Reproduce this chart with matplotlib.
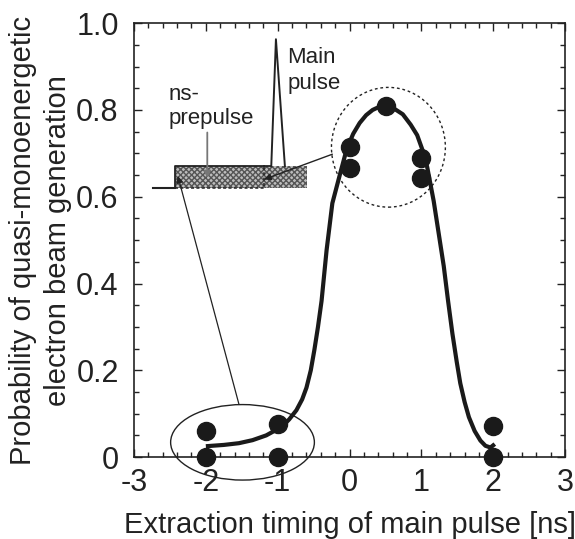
import matplotlib
matplotlib.use("Agg")
import matplotlib.pyplot as plt
from matplotlib.patches import Ellipse, Rectangle
from matplotlib.ticker import MultipleLocator, FixedLocator

plt.rcParams['font.family'] = ['Liberation Sans', 'DejaVu Sans']
plt.rcParams['axes.unicode_minus'] = False

# measured data points
x_pts = [-2, -2, -1, -1, 0, 0, 0.5, 1, 1, 2, 2]
y_pts = [0.06, 0.0, 0.077, 0.0, 0.715, 0.666, 0.809, 0.69, 0.643, 0.071, 0.0]

# fitted curve
curve_x = [-2.0, -1.75, -1.54, -1.35, -1.16, -0.94, -0.84, -0.74, -0.66, -0.60, -0.54, -0.49,
           -0.44, -0.39, -0.32, -0.24, -0.14, -0.04, 0.05, 0.14, 0.23, 0.32, 0.41, 0.5,
           0.62, 0.74, 0.85, 0.94, 1.02, 1.08, 1.17, 1.24, 1.31, 1.37, 1.43, 1.49, 1.54,
           1.60, 1.66, 1.74, 1.82, 1.89, 1.96, 2.02]
curve_y = [0.025, 0.028, 0.032, 0.039, 0.05, 0.07, 0.087, 0.108, 0.133, 0.16, 0.20, 0.247,
           0.30, 0.36, 0.477, 0.585, 0.648, 0.710, 0.745, 0.770, 0.788, 0.800, 0.807, 0.809,
           0.803, 0.790, 0.766, 0.742, 0.705, 0.668, 0.59, 0.515, 0.44, 0.36, 0.285, 0.22, 0.17,
           0.127, 0.092, 0.060, 0.038, 0.026, 0.022, 0.030]

x_ticks = [-3, -2, -1, 0, 1, 2, 3]
x_ticklabels = ['-3', '-2', '-1', '0', '1', '2', '3']
y_ticks = [0, 0.2, 0.4, 0.6, 0.8, 1.0]
y_ticklabels = ['0', '0.2', '0.4', '0.6', '0.8', '1.0']

fig = plt.figure(figsize=(5.75, 5.39), dpi=100)
ax = fig.add_axes([0.233, 0.152, 0.750, 0.805])

ax.plot(curve_x, curve_y, color='#1a1a1a', lw=3.0, solid_capstyle='butt', zorder=3)
ax.plot(x_pts, y_pts, 'o', color='#1a1a1a', ms=13, zorder=4, clip_on=False)

ax.set_xlim(-3, 3)
ax.set_ylim(0, 1.0)
ax.xaxis.set_major_locator(FixedLocator(x_ticks))
ax.set_xticklabels(x_ticklabels)
ax.yaxis.set_major_locator(FixedLocator(y_ticks))
ax.set_yticklabels(y_ticklabels)
ax.xaxis.set_minor_locator(MultipleLocator(0.2))
ax.yaxis.set_minor_locator(MultipleLocator(0.05))
ax.tick_params(which='both', direction='in', top=True, right=True, width=1.0, color='#222')
ax.tick_params(which='major', length=6, labelsize=22, labelcolor='#222')
ax.tick_params(axis='y', which='major', pad=11)
ax.tick_params(axis='x', which='major', pad=8)
ax.tick_params(which='minor', length=3.5)
for s in ax.spines.values():
    s.set_linewidth(1.2)
    s.set_color('#222')

ax.set_xlabel('Extraction timing of main pulse [ns]', fontsize=21, labelpad=9, color='#222')
ax.set_ylabel('Probability of quasi-monoenergetic\nelectron beam generation', fontsize=21,
              labelpad=3, color='#222', linespacing=1.3)

# annotation: pulse shape sketch
base_y, top_y = 0.62, 0.67
ax.plot([-2.73, -2.43], [base_y, base_y], color='#222', lw=1.5, zorder=2)
ax.add_patch(Rectangle((-2.43, base_y), 1.84, top_y - base_y, facecolor='#bdbdbd',
                       edgecolor='#555', hatch='xxxxxx', lw=0, zorder=1))
ax.plot([-2.43, -2.43, -1.19], [base_y, top_y, top_y], color='#222', lw=1.3, zorder=2)
ax.plot([-2.43, -1.19, -1.19], [base_y, base_y, top_y], color='#222', lw=1.1, ls=(0, (2, 1.5)), zorder=2)
ax.plot([-1.19, -1.09], [top_y, top_y], color='#222', lw=1.3, zorder=2)
ax.plot([-1.09, -1.025, -0.90], [top_y, 0.963, top_y], color='#222', lw=1.4, zorder=2)

ax.text(-2.52, 0.823, 'ns-', fontsize=16, color='#222')
ax.text(-2.52, 0.767, 'prepulse', fontsize=16, color='#222')
ax.text(-0.87, 0.908, 'Main', fontsize=16, color='#222')
ax.text(-0.87, 0.848, 'pulse', fontsize=16, color='#222')

ax.annotate('', xy=(-1.98, 0.643), xytext=(-1.98, 0.748),
            arrowprops=dict(arrowstyle='-|>', color='#777', lw=1.3, mutation_scale=10,
                            shrinkA=0, shrinkB=0))
ax.annotate('', xy=(-1.19, 0.64), xytext=(-0.24, 0.698),
            arrowprops=dict(arrowstyle='-|>', color='#222', lw=1.0, mutation_scale=10,
                            shrinkA=0, shrinkB=0))
ax.annotate('', xy=(-2.39, 0.648), xytext=(-1.54, 0.122),
            arrowprops=dict(arrowstyle='-|>', color='#222', lw=0.9, mutation_scale=10,
                            shrinkA=0, shrinkB=0))

ax.add_patch(Ellipse((0.54, 0.714), 1.585, 0.276, fill=False, edgecolor='#222', lw=1.0,
                     ls=(0, (2, 2)), zorder=2))
ax.add_patch(Ellipse((-1.49, 0.034), 2.0, 0.174, fill=False, edgecolor='#222', lw=1.0,
                     zorder=2, clip_on=False))

fig.savefig('out.png', dpi=100)
